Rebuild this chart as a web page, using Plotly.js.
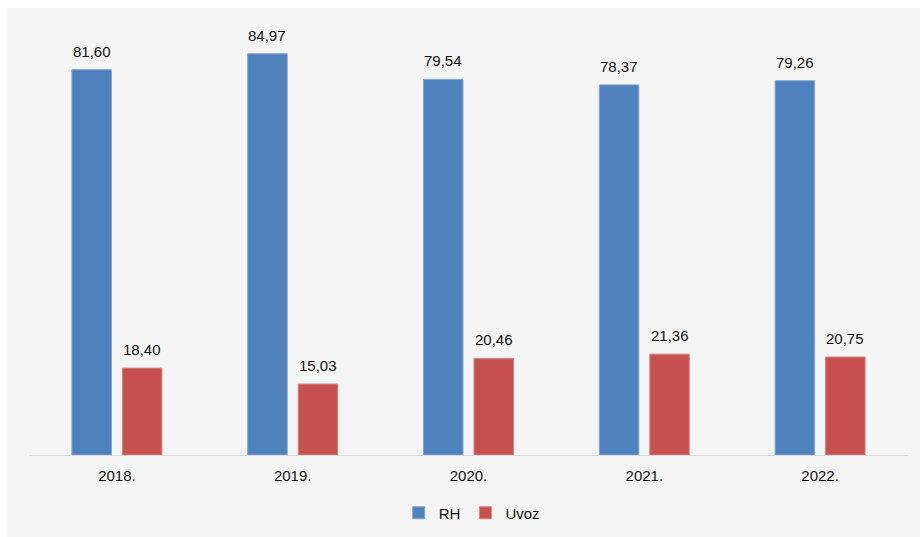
<!DOCTYPE html>
<html>
<head>
<meta charset="utf-8">
<script src="https://cdn.plot.ly/plotly-3.0.1.min.js"></script>
<style>
  html, body { margin: 0; padding: 0; background: #ffffff; }
  #chart { position: absolute; left: 7px; top: 8px; width: 913px; height: 529px; }
</style>
</head>
<body>
<div id="chart"></div>
<script>
const years = ["2018.", "2019.", "2020.", "2021.", "2022."];
const rhValues = [81.60, 84.97, 79.54, 78.37, 79.26];
const uvozValues = [18.40, 15.03, 20.46, 21.36, 20.75];
const seriesNames = ["RH", "Uvoz"];

const FONT = "'Liberation Sans', Arial, sans-serif";
const FS = 15;
const blue = "#4f81bd";
const red = "#c6504e";

function fmt(v) { return v.toFixed(2).replace('.', ','); }

const traces = [
  { type: 'bar', name: seriesNames[0], x: years, y: rhValues,
    marker: { color: blue, line: { color: '#7ea3d6', width: 1 } }, hoverinfo: 'none' },
  { type: 'bar', name: seriesNames[1], x: years, y: uvozValues,
    marker: { color: red, line: { color: '#d98482', width: 1 } }, hoverinfo: 'none' }
];

const slotPx = 25.25;
const annotations = [];
years.forEach((yr, i) => {
  // category axes place annotations by category index
  annotations.push({ x: i, y: rhValues[i], xref: 'x', yref: 'y', text: fmt(rhValues[i]),
    showarrow: false, xshift: -slotPx, yanchor: 'bottom', yshift: 8,
    font: { family: FONT, size: FS, color: '#111111' } });
  annotations.push({ x: i, y: uvozValues[i], xref: 'x', yref: 'y', text: fmt(uvozValues[i]),
    showarrow: false, xshift: slotPx, yanchor: 'bottom', yshift: 8,
    font: { family: FONT, size: FS, color: '#111111' } });
});

const layout = {
  width: 913, height: 529,
  paper_bgcolor: '#f5f5f5', plot_bgcolor: '#f5f5f5',
  margin: { l: 22, r: 12, t: 22, b: 82 },
  barmode: 'group', bargap: 0.4255, bargroupgap: 0.218,
  font: { family: FONT, size: FS, color: '#111111' },
  xaxis: { type: 'category', range: [-0.5, years.length - 0.5], showline: true, linecolor: '#d9d9d9', linewidth: 1,
    ticks: '', showgrid: false, ticklabelstandoff: 7, automargin: false,
    tickfont: { family: FONT, size: FS, color: '#111111' }, fixedrange: true },
  yaxis: { range: [0, 90], visible: false, showgrid: false, zeroline: false, fixedrange: true, automargin: false },
  showlegend: true,
  legend: { orientation: 'h', x: 0.509, xanchor: 'center', xref: 'container',
    y: (529 - 505) / 529, yanchor: 'middle', yref: 'container',
    font: { family: FONT, size: FS, color: '#111111' }, itemwidth: 30, bgcolor: 'rgba(0,0,0,0)' },
  annotations: annotations
};

Plotly.newPlot('chart', traces, layout, { displayModeBar: false, staticPlot: true });
</script>
</body>
</html>
